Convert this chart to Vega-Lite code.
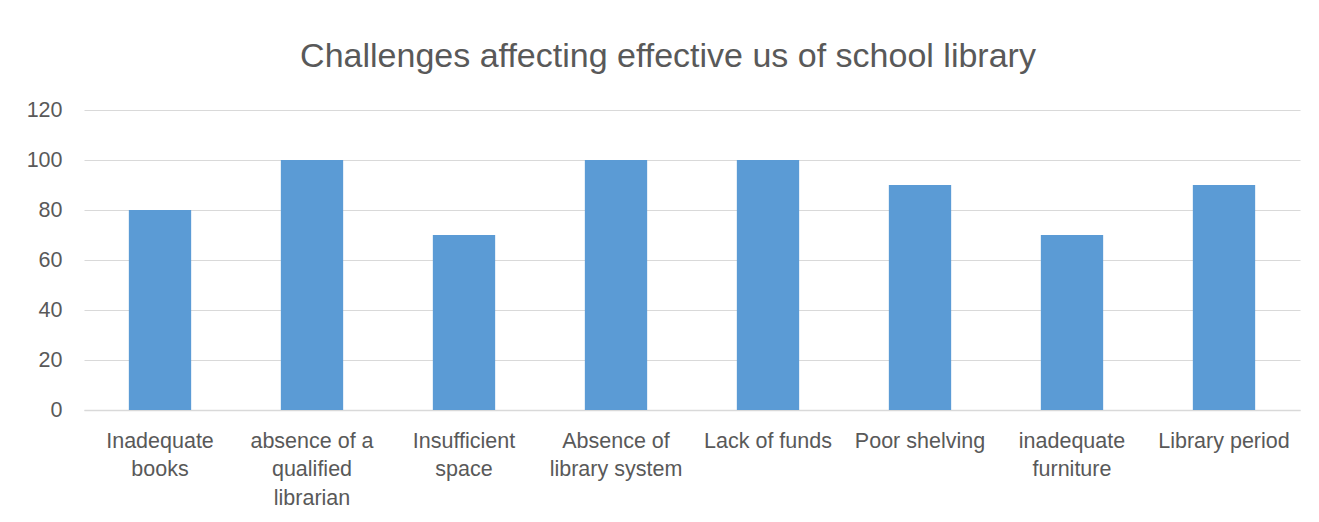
{
  "$schema": "https://vega.github.io/schema/vega-lite/v6.json",
  "autosize": "none",
  "width": 1216,
  "height": 300,
  "padding": {"left": 84, "top": 110, "right": 19, "bottom": 112},
  "background": "white",
  "title": {
    "text": "Challenges affecting effective us of school library",
    "fontSize": 34,
    "font": "Liberation Sans",
    "fontWeight": "normal",
    "color": "#595959",
    "anchor": "middle",
    "dx": -24,
    "offset": 25
  },
  "data": {
    "values": [
      {"challenge": "Inadequate\nbooks", "value": 80},
      {"challenge": "absence of a\nqualified\nlibrarian", "value": 100},
      {"challenge": "Insufficient\nspace", "value": 70},
      {"challenge": "Absence of\nlibrary system", "value": 100},
      {"challenge": "Lack of funds", "value": 100},
      {"challenge": "Poor shelving", "value": 90},
      {"challenge": "inadequate\nfurniture", "value": 70},
      {"challenge": "Library period", "value": 90}
    ]
  },
  "mark": {"type": "bar", "color": "#5B9BD5"},
  "encoding": {
    "x": {
      "field": "challenge",
      "type": "nominal",
      "sort": null,
      "scale": {"paddingInner": 0.59, "paddingOuter": 0.295},
      "axis": {
        "title": null,
        "labelAngle": 0,
        "labelExpr": "split(datum.label, '\\n')",
        "labelFont": "Liberation Sans",
        "labelFontSize": 21.5,
        "labelColor": "#595959",
        "labelLineHeight": 28.5,
        "labelPadding": 20,
        "labelBaseline": "top",
        "ticks": false,
        "domainColor": "#d9d9d9",
        "domainWidth": 1.5,
        "grid": false
      }
    },
    "y": {
      "field": "value",
      "type": "quantitative",
      "scale": {"domain": [0, 120]},
      "axis": {
        "title": null,
        "values": [0, 20, 40, 60, 80, 100, 120],
        "labelFont": "Liberation Sans",
        "labelFontSize": 21.5,
        "labelColor": "#595959",
        "labelPadding": 22,
        "ticks": false,
        "domain": false,
        "gridColor": "#d9d9d9",
        "gridWidth": 1.2
      }
    }
  },
  "config": {"view": {"stroke": null}}
}
